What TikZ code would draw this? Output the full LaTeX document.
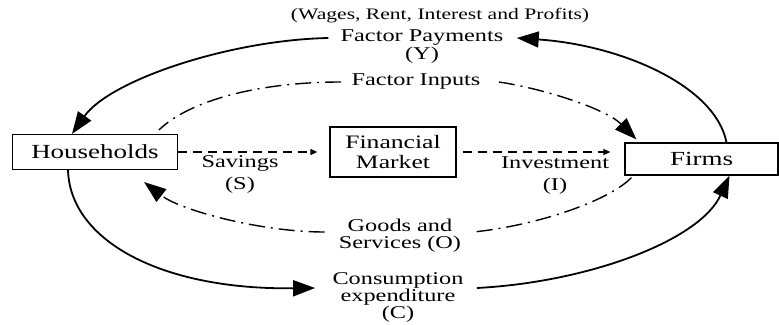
\documentclass[tikz,border=0pt]{standalone}
\usepackage{fontspec}
\setmainfont[FakeStretch=1.35]{Liberation Serif}
\usepackage{tikz}
\usetikzlibrary{arrows.meta, positioning}

\tikzset{
  sector/.style={draw, line width=0.6pt, align=center, inner sep=0pt, font=\fontsize{10}{11}\selectfont},
  flowtext/.style={align=center, inner sep=1pt, font=\fontsize{9}{8.5}\selectfont},
  money/.style={line width=0.9pt, -{Triangle[length=11pt,width=8pt]}},
  real/.style={line width=0.7pt, dash pattern=on 8pt off 3pt on 1pt off 3pt},
  realtip/.style={real, -{Triangle[length=11pt,width=8pt]}},
  loan/.style={line width=0.7pt, dash pattern=on 4.5pt off 3pt, -{Triangle[length=3.5pt,width=3pt]}}
}

\begin{document}
\begin{tikzpicture}[x=0.5pt, y=-0.5pt]
    \useasboundingbox[fill=white] (0,0) rectangle (779,325);

    % Sectors
    \node[sector, minimum width=82.5pt, minimum height=17.5pt] (hh) at (95,152) {Households};
    \node[sector, minimum width=63pt, minimum height=25pt, font=\fontsize{9.5}{10}\selectfont] (fm) at (393,152) {Financial\\Market};
    \node[sector, minimum width=76.5pt, minimum height=16pt] (firms) at (701.5,159) {Firms};

    % Flow labels
    \node[flowtext, font=\fontsize{8}{9}\selectfont] (wages) at (440,16) {(Wages, Rent, Interest and Profits)};
    \node[flowtext] (fpay) at (422,38) {Factor Payments};
    \node[flowtext] (fpayy) at (422,55) {(Y)};
    \node[flowtext] (finp) at (416,82) {Factor Inputs};
    \node[flowtext, font=\fontsize{9}{11}\selectfont] (sav) at (240,174) {Savings\\(S)};
    \node[flowtext, font=\fontsize{9}{11}\selectfont] (inv) at (555,176) {Investment\\(I)};
    \node[flowtext] (goods) at (400,236) {Goods and\\Services (O)};
    \node[flowtext] (cons) at (398,297) {Consumption\\expenditure\\(C)};

    % Factor payments
    \draw[money] ([xshift=12.5pt]firms.north) .. controls (715,85) and (620,45) .. ([xshift=5.5pt]fpay.east);
    \draw[money] ([xshift=-5pt]fpay.west) .. controls (230,40) and (110,80) .. ([xshift=-11.5pt]hh.north);

    % Factor inputs
    \draw[real] ([xshift=-4pt]finp.west) .. controls (260,82) and (190,100) .. ([xshift=32pt,yshift=2pt]hh.north);
    \draw[realtip] ([xshift=8pt]finp.east) .. controls (540,88) and (605,108) .. ([xshift=6pt,yshift=1.5pt]firms.north west);

    % Savings and investment
    \draw[loan] (hh.east) -- ([xshift=-6pt]fm.west);
    \draw[loan] ([xshift=3pt]fm.east) -- ([xshift=-7pt]fm.east -| firms.west);

    % Goods and services
    \draw[real] ([xshift=3.5pt,yshift=-1pt]firms.south west) .. controls (610,200) and (540,225) .. ([xshift=5pt,yshift=2pt]goods.east);
    \draw[realtip] ([xshift=-6pt,yshift=2pt]goods.west) .. controls (260,232) and (180,210) .. ([xshift=-17pt,yshift=-6pt]hh.south east);

    % Consumption expenditure
    \draw[money] ([xshift=-13.5pt]hh.south) .. controls (70,240) and (160,290) .. ([xshift=-7.5pt,yshift=4.5pt]cons.west);
    \draw[money] ([xshift=5.5pt,yshift=4.5pt]cons.east) .. controls (590,282) and (700,240) .. ([xshift=14pt]firms.south);
\end{tikzpicture}
\end{document}
